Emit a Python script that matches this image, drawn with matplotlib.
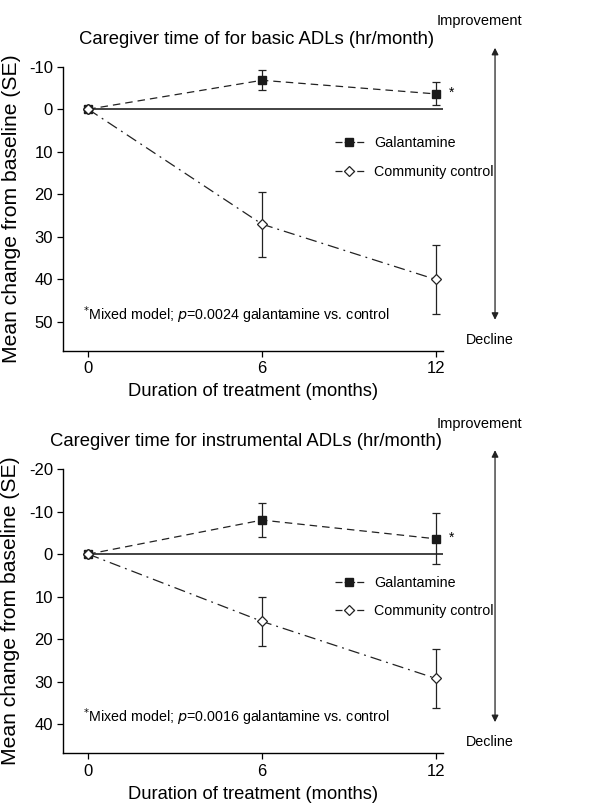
import numpy as np
import matplotlib
matplotlib.use("Agg")
import matplotlib.pyplot as plt
from matplotlib.lines import Line2D

plt.rcParams['font.family'] = ['Liberation Sans', 'DejaVu Sans']
plt.rcParams['axes.unicode_minus'] = False

months = [0, 6, 12]

# basic ADLs (negative = improvement)
basic_gal = [0, -6.8, -3.6]
basic_gal_se = [0, 2.3, 2.7]
basic_ctl = [0, 27.0, 40.0]
basic_ctl_se = [0, 7.6, 8.1]

# instrumental ADLs
instr_gal = [0, -8.0, -3.6]
instr_gal_se = [0, 4.0, 6.0]
instr_ctl = [0, 15.8, 29.2]
instr_ctl_se = [0, 5.8, 7.0]

titles = ["Caregiver time of for basic ADLs (hr/month)",
          "Caregiver time for instrumental ADLs (hr/month)"]
notes = ["0.0024", "0.0016"]
yticks_list = [[-10, 0, 10, 20, 30, 40, 50], [-20, -10, 0, 10, 20, 30, 40]]
ylims = [(56.8, -10), (46.8, -20)]
title_x = [0.51, 0.48]
legend_y = [0.755, 0.625]

ink = '#222222'
gal_style = dict(color=ink, lw=0.9, dashes=[6, 4], marker='s', ms=5.2,
                 mfc='#1a1a1a', mec='#1a1a1a')
ctl_style = dict(color=ink, lw=0.9, dashes=[9, 4, 1.5, 4], marker='D', ms=4.9,
                 mfc='white', mec=ink, mew=0.9)
key_dashes = [5.6, 1.7, 8.4, 1.7]

fig = plt.figure(figsize=(6.13, 8.11), dpi=100)
ax1 = fig.add_axes([0.1033, 0.5672, 0.6194, 0.3506])
ax2 = fig.add_axes([0.1033, 0.0711, 0.6194, 0.3506])

data = [(basic_gal, basic_gal_se, basic_ctl, basic_ctl_se),
        (instr_gal, instr_gal_se, instr_ctl, instr_ctl_se)]

for i, ax in enumerate([ax1, ax2]):
    gal, gal_se, ctl, ctl_se = data[i]
    ax.axhline(0, color=ink, lw=1.2, xmin=0.066, xmax=1.0, zorder=1)
    ax.errorbar(months, ctl, yerr=ctl_se, capsize=3, elinewidth=0.9,
                capthick=0.9, zorder=3, **ctl_style)
    ax.errorbar(months, gal, yerr=gal_se, capsize=3, elinewidth=0.9,
                capthick=0.9, zorder=2, **gal_style)
    # baseline diamond drawn on top
    ax.plot([0], [0], marker='D', ms=4.9, mfc='white', mec=ink, mew=0.9,
            zorder=4)

    ax.set_xlim(-0.86, 12.25)
    ax.set_ylim(*ylims[i])
    ax.set_xticks(months)
    ax.set_yticks(yticks_list[i])
    ax.tick_params(labelsize=12, length=4, width=0.9, direction='out')
    for s in ['top', 'right']:
        ax.spines[s].set_visible(False)
    for s in ['left', 'bottom']:
        ax.spines[s].set_linewidth(1.0)
    ax.set_xlabel("Duration of treatment (months)", fontsize=13.2, labelpad=5)
    ax.set_ylabel("Mean change from baseline (SE)", fontsize=15.2, labelpad=6)

    ax.text(title_x[i], 1.097, titles[i], transform=ax.transAxes,
            ha='center', va='center', fontsize=13.3)

    handles = [Line2D([], [], **dict(gal_style, dashes=key_dashes)),
               Line2D([], [], **dict(ctl_style, dashes=key_dashes))]
    ax.legend(handles, ['Galantamine', 'Community control'], loc='upper left',
              bbox_to_anchor=(0.716, legend_y[i]), frameon=False,
              fontsize=10.3, handlelength=2.0, handletextpad=0.7,
              labelspacing=1.0, borderpad=0, borderaxespad=0)

    ax.text(12.45, gal[2] - 0.3, "*", ha='left', va='center', fontsize=10)
    ax.text(0.052, 0.126,
            "$^{*}$Mixed model; $\\it{p}$=" + notes[i] + " galantamine vs. control",
            transform=ax.transAxes, ha='left', va='center', fontsize=10.3)

    ax.annotate("", xy=(1.137, 1.076), xytext=(1.137, 0.10),
                xycoords='axes fraction', textcoords='axes fraction',
                arrowprops=dict(arrowstyle='<|-|>', color=ink, lw=0.9,
                                mutation_scale=10))
    ax.text(1.097, 1.16, "Improvement", transform=ax.transAxes,
            ha='center', va='center', fontsize=10.5, clip_on=False)
    ax.text(1.124, 0.04, "Decline", transform=ax.transAxes,
            ha='center', va='center', fontsize=10.3, clip_on=False)

fig.savefig("out.png", dpi=100)
